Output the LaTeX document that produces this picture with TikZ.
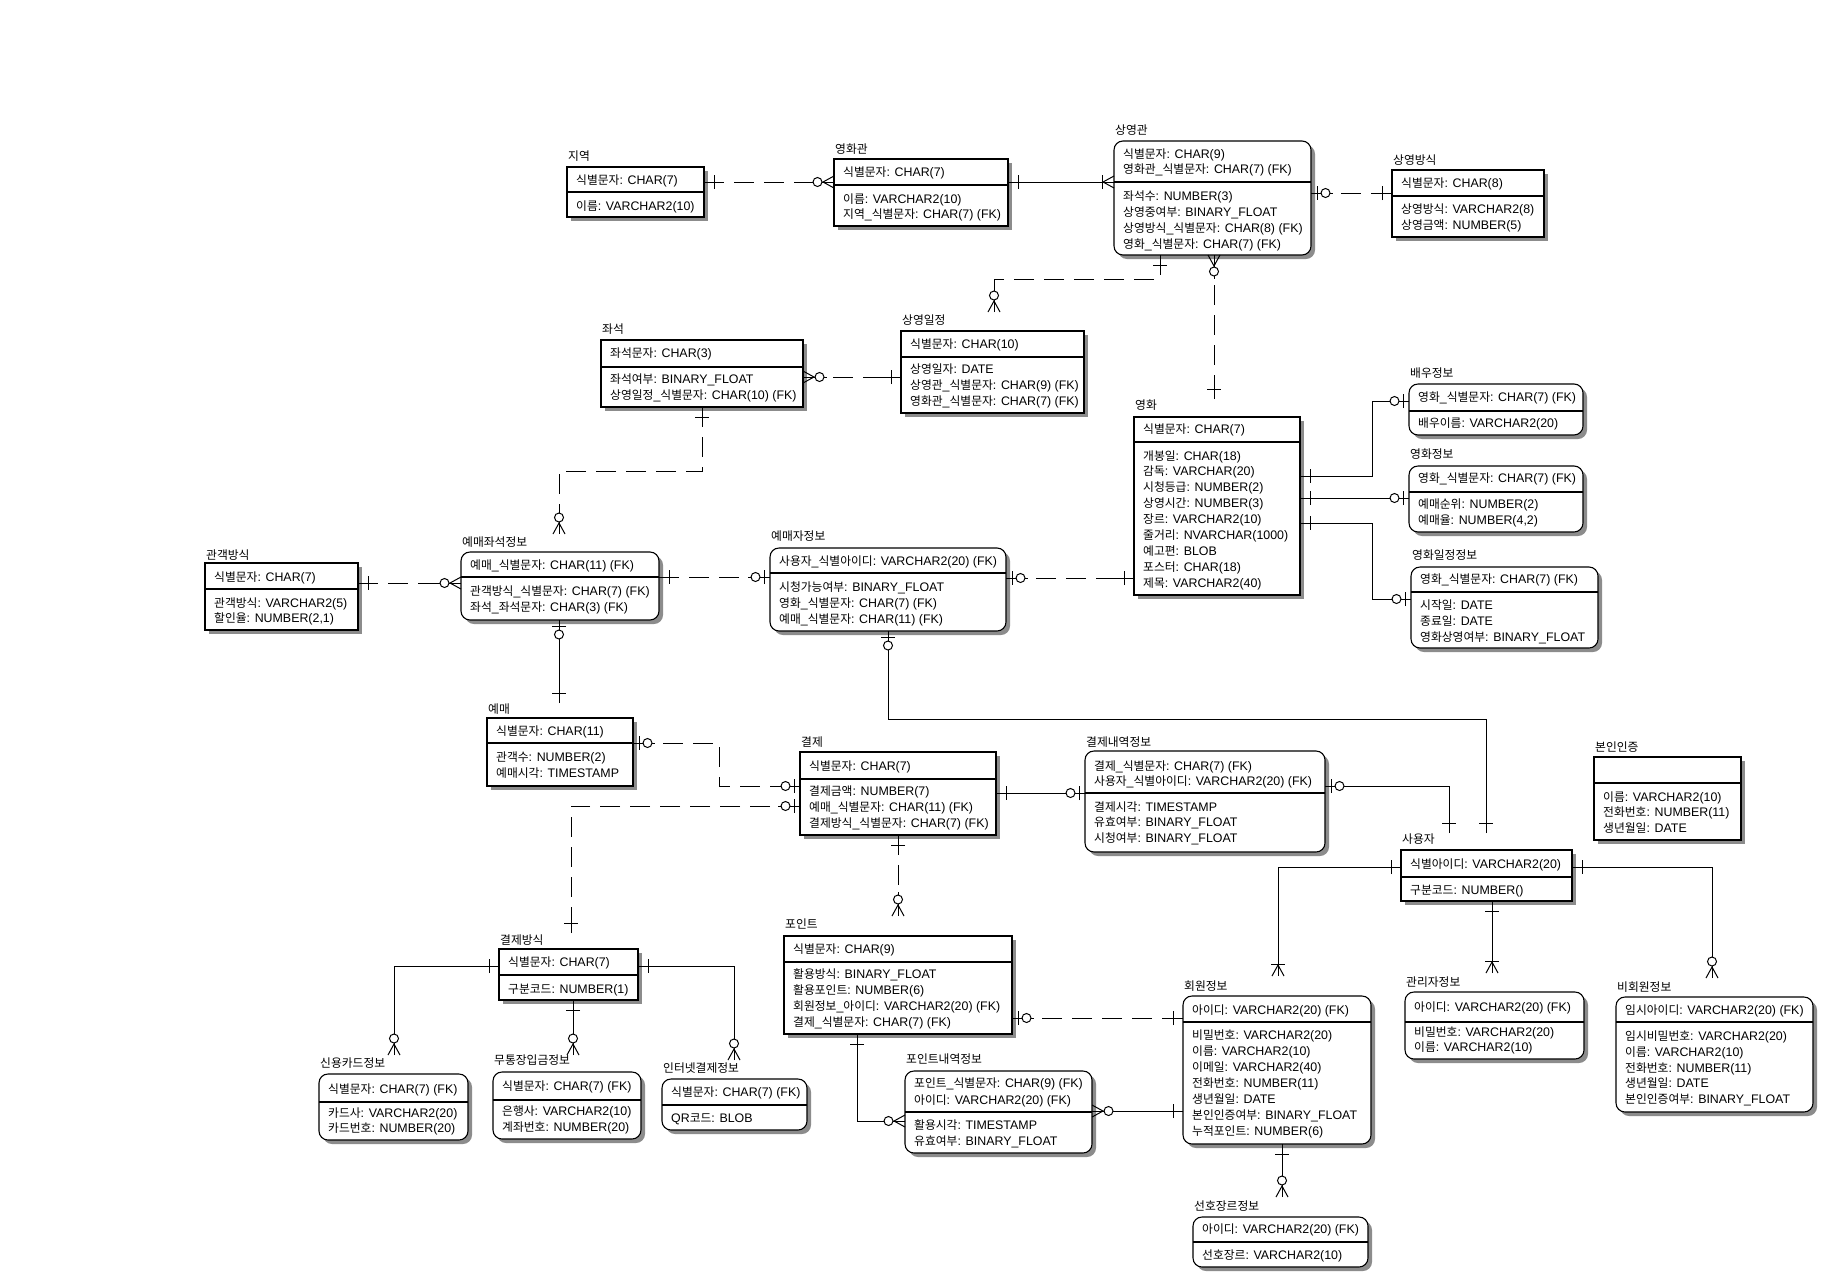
\documentclass[tikz,border=0pt]{standalone}
\usepackage{fontspec}
\setmainfont{Liberation Sans}
\newfontfamily\kofont[Scale=0.95]{Noto Sans CJK KR}
\newfontfamily\latfont{Liberation Sans}
\usetikzlibrary{shadows}
\newcount\hc
\newXeTeXintercharclass\KoClass
\hc="AC00
\loop \XeTeXcharclass\hc=\KoClass \advance\hc by 1 \ifnum\hc<"D7A4 \repeat
\XeTeXinterchartoks 0 \KoClass={\kofont}
\XeTeXinterchartoks 4095 \KoClass={\kofont}
\XeTeXinterchartoks \KoClass 0={\latfont}
\XeTeXinterchartoks \KoClass 4095={\latfont}
\XeTeXinterchartokenstate=1
\newcount\rc
\tikzset{
  ent/.style={draw, line width=1.1pt, fill=white, anchor=north west, inner sep=0pt, outer sep=0pt,
    drop shadow={shadow xshift=4pt, shadow yshift=-4pt, opacity=1, fill=black!45}},
  rent/.style={ent, rounded corners=9pt},
  row/.style={anchor=west, inner sep=0pt, text height=10pt, text depth=2pt, font=\fontsize{12.4}{14}\selectfont},
  ttl/.style={row},
  conn/.style={line width=1pt},
  dconn/.style={conn, dash pattern=on 20pt off 10pt},
  mk/.style={line width=1pt, solid},
  pics/one/.style={code={\draw[mk] (0,0) -- (20,0); \draw[mk] (10,-7) -- (10,7);}},
  pics/zone/.style={code={\draw[mk] (0,0) -- (22,0); \draw[mk] (6,-7) -- (6,7); \draw[mk, fill=white] (14.5,0) circle[radius=4.5];}},
  pics/zmany/.style={code={\draw[mk] (0,0) -- (24,0); \draw[mk] (0,-6) -- (11,0) -- (0,6); \draw[mk, fill=white] (16.5,0) circle[radius=4.5];}},
  pics/omany/.style={code={\draw[mk] (0,0) -- (20,0); \draw[mk] (0,-6) -- (11,0) -- (0,6); \draw[mk] (12,-7) -- (12,7);}},
}
\newcommand\ent[9]{%
  \node[#2, minimum width={#5-#3}, minimum height={#6-#4}] (#1) at (#3,#4) {};
  \draw[line width=1.1pt] (#1.west |- 0,#7) -- (#1.east |- 0,#7);
  \node[ttl] (#1-t) at ({#3+1},#8) {#9};
  \def\ex{#3}}
\newcommand\rw[2]{\global\advance\rc by 1\relax \node[row] (r\the\rc) at ({\ex+9},#1) {#2};}
\begin{document}
\begin{tikzpicture}[x=1pt,y=-1pt]
\useasboundingbox (0,0) rectangle (1828,1283);
\fill[white] (0,0) rectangle (1828,1283);

% entities
\ent{jy}{ent}{567}{167}{704}{217}{192}{156}{지역}
\rw{180}{식별문자: CHAR(7)} \rw{206}{이름: VARCHAR2(10)}

\ent{yhg}{ent}{834}{159}{1008}{226}{185}{149}{영화관}
\rw{172}{식별문자: CHAR(7)} \rw{199}{이름: VARCHAR2(10)} \rw{214}{지역\_식별문자: CHAR(7) (FK)}

\ent{syg}{rent}{1114}{141}{1311}{255}{182}{130}{상영관}
\rw{154}{식별문자: CHAR(9)} \rw{169}{영화관\_식별문자: CHAR(7) (FK)}
\rw{196}{좌석수: NUMBER(3)} \rw{212}{상영중여부: BINARY\_FLOAT} \rw{228}{상영방식\_식별문자: CHAR(8) (FK)} \rw{244}{영화\_식별문자: CHAR(7) (FK)}

\ent{sybs}{ent}{1392}{170}{1544}{237}{196}{160}{상영방식}
\rw{183}{식별문자: CHAR(8)} \rw{209}{상영방식: VARCHAR2(8)} \rw{225}{상영금액: NUMBER(5)}

\ent{js}{ent}{601}{340}{803}{407}{367}{329}{좌석}
\rw{353}{좌석문자: CHAR(3)} \rw{379}{좌석여부: BINARY\_FLOAT} \rw{395}{상영일정\_식별문자: CHAR(10) (FK)}

\ent{syij}{ent}{901}{331}{1084}{413}{357}{320}{상영일정}
\rw{344}{식별문자: CHAR(10)} \rw{369}{상영일자: DATE} \rw{385}{상영관\_식별문자: CHAR(9) (FK)} \rw{401}{영화관\_식별문자: CHAR(7) (FK)}

\ent{yh}{ent}{1134}{417}{1300}{595}{442}{405}{영화}
\rw{429}{식별문자: CHAR(7)}
\rw{456}{개봉일: CHAR(18)} \rw{471}{감독: VARCHAR(20)} \rw{487}{시청등급: NUMBER(2)} \rw{503}{상영시간: NUMBER(3)}
\rw{519}{장르: VARCHAR2(10)} \rw{535}{줄거리: NVARCHAR(1000)} \rw{551}{예고편: BLOB} \rw{567}{포스터: CHAR(18)} \rw{583}{제목: VARCHAR2(40)}

\ent{bu}{rent}{1409}{384}{1583}{435}{411}{373}{배우정보}
\rw{397}{영화\_식별문자: CHAR(7) (FK)} \rw{423}{배우이름: VARCHAR2(20)}

\ent{yhj}{rent}{1409}{466}{1583}{532}{492}{454}{영화정보}
\rw{478}{영화\_식별문자: CHAR(7) (FK)} \rw{504}{예매순위: NUMBER(2)} \rw{520}{예매율: NUMBER(4,2)}

\ent{yhij}{rent}{1411}{567}{1598}{648}{592}{555}{영화일정정보}
\rw{579}{영화\_식별문자: CHAR(7) (FK)} \rw{605}{시작일: DATE} \rw{621}{종료일: DATE} \rw{637}{영화상영여부: BINARY\_FLOAT}

\ent{ggbs}{ent}{205}{563}{358}{630}{589}{555}{관객방식}
\rw{577}{식별문자: CHAR(7)} \rw{603}{관객방식: VARCHAR2(5)} \rw{618}{할인율: NUMBER(2,1)}

\ent{ymjs}{rent}{461}{552}{659}{620}{577}{542}{예매좌석정보}
\rw{565}{예매\_식별문자: CHAR(11) (FK)} \rw{591}{관객방식\_식별문자: CHAR(7) (FK)} \rw{607}{좌석\_좌석문자: CHAR(3) (FK)}

\ent{ymj}{rent}{770}{548}{1006}{631}{573}{536}{예매자정보}
\rw{561}{사용자\_식별아이디: VARCHAR2(20) (FK)} \rw{587}{시청가능여부: BINARY\_FLOAT} \rw{603}{영화\_식별문자: CHAR(7) (FK)} \rw{619}{예매\_식별문자: CHAR(11) (FK)}

\ent{ym}{ent}{487}{718}{633}{786}{743}{709}{예매}
\rw{731}{식별문자: CHAR(11)} \rw{757}{관객수: NUMBER(2)} \rw{773}{예매시각: TIMESTAMP}

\ent{gj}{ent}{800}{752}{996}{835}{779}{742}{결제}
\rw{766}{식별문자: CHAR(7)} \rw{791}{결제금액: NUMBER(7)} \rw{807}{예매\_식별문자: CHAR(11) (FK)} \rw{823}{결제방식\_식별문자: CHAR(7) (FK)}

\ent{gjn}{rent}{1085}{751}{1325}{852}{793}{742}{결제내역정보}
\rw{766}{결제\_식별문자: CHAR(7) (FK)} \rw{781}{사용자\_식별아이디: VARCHAR2(20) (FK)}
\rw{807}{결제시각: TIMESTAMP} \rw{822}{유효여부: BINARY\_FLOAT} \rw{838}{시청여부: BINARY\_FLOAT}

\ent{bii}{ent}{1594}{757}{1741}{840}{783}{747}{본인인증}
\rw{797}{이름: VARCHAR2(10)} \rw{812}{전화번호: NUMBER(11)} \rw{828}{생년월일: DATE}

\ent{sy}{ent}{1401}{850}{1572}{901}{877}{839}{사용자}
\rw{864}{식별아이디: VARCHAR2(20)} \rw{890}{구분코드: NUMBER()}

\ent{gjbs}{ent}{499}{949}{638}{1000}{975}{940}{결제방식}
\rw{962}{식별문자: CHAR(7)} \rw{989}{구분코드: NUMBER(1)}

\ent{sk}{rent}{319}{1074}{468}{1140}{1102}{1063}{신용카드정보}
\rw{1089}{식별문자: CHAR(7) (FK)} \rw{1113}{카드사: VARCHAR2(20)} \rw{1128}{카드번호: NUMBER(20)}

\ent{mt}{rent}{493}{1072}{641}{1139}{1100}{1060}{무통장입금정보}
\rw{1086}{식별문자: CHAR(7) (FK)} \rw{1111}{은행사: VARCHAR2(10)} \rw{1127}{계좌번호: NUMBER(20)}

\ent{it}{rent}{662}{1079}{807}{1130}{1105}{1068}{인터넷결제정보}
\rw{1092}{식별문자: CHAR(7) (FK)} \rw{1118}{QR코드: BLOB}

\ent{pt}{ent}{784}{936}{1012}{1034}{962}{924}{포인트}
\rw{949}{식별문자: CHAR(9)} \rw{974}{활용방식: BINARY\_FLOAT} \rw{990}{활용포인트: NUMBER(6)}
\rw{1006}{회원정보\_아이디: VARCHAR2(20) (FK)} \rw{1022}{결제\_식별문자: CHAR(7) (FK)}

\ent{ptn}{rent}{905}{1071}{1092}{1153}{1112}{1059}{포인트내역정보}
\rw{1083}{포인트\_식별문자: CHAR(9) (FK)} \rw{1100}{아이디: VARCHAR2(20) (FK)} \rw{1125}{활용시각: TIMESTAMP} \rw{1141}{유효여부: BINARY\_FLOAT}

\ent{hw}{rent}{1183}{996}{1371}{1144}{1022}{986}{회원정보}
\rw{1010}{아이디: VARCHAR2(20) (FK)} \rw{1035}{비밀번호: VARCHAR2(20)} \rw{1051}{이름: VARCHAR2(10)} \rw{1067}{이메일: VARCHAR2(40)}
\rw{1083}{전화번호: NUMBER(11)} \rw{1099}{생년월일: DATE} \rw{1115}{본인인증여부: BINARY\_FLOAT} \rw{1131}{누적포인트: NUMBER(6)}

\ent{sh}{rent}{1193}{1217}{1368}{1267}{1242}{1206}{선호장르정보}
\rw{1229}{아이디: VARCHAR2(20) (FK)} \rw{1255}{선호장르: VARCHAR2(10)}

\ent{gr}{rent}{1405}{992}{1584}{1059}{1022}{982}{관리자정보}
\rw{1007}{아이디: VARCHAR2(20) (FK)} \rw{1032}{비밀번호: VARCHAR2(20)} \rw{1047}{이름: VARCHAR2(10)}

\ent{bhw}{rent}{1616}{997}{1813}{1112}{1022}{987}{비회원정보}
\rw{1010}{임시아이디: VARCHAR2(20) (FK)} \rw{1036}{임시비밀번호: VARCHAR2(20)} \rw{1052}{이름: VARCHAR2(10)}
\rw{1068}{전화번호: NUMBER(11)} \rw{1083}{생년월일: DATE} \rw{1099}{본인인증여부: BINARY\_FLOAT}

% connectors
\draw[dconn] (jy.east |- 0,182) -- (yhg.west |- 0,182);
\pic at (jy.east |- 0,182) {one};
\pic[rotate=180] at (yhg.west |- 0,182) {zmany};

\draw[conn] (yhg.east |- 0,182) -- (syg.west |- 0,182);
\pic at (yhg.east |- 0,182) {one};
\pic[rotate=180] at (syg.west |- 0,182) {omany};

\draw[dconn] (syg.east |- 0,193) -- (sybs.west |- 0,193);
\pic at (syg.east |- 0,193) {zone};
\pic[rotate=180] at (sybs.west |- 0,193) {one};

\coordinate (c4) at (994,312);
\draw[dconn] (syg.south -| 1160,0) -- (1160,279) -- (994,279) -- (c4);
\pic[rotate=-90] at (syg.south -| 1160,0) {one};
\pic[rotate=90] at (c4) {zmany};

\coordinate (c5) at (1214,399);
\draw[dconn] (syg.south -| 1214,0) -- (c5);
\pic[rotate=-90] at (syg.south -| 1214,0) {zmany};
\pic[rotate=90] at (c5) {one};

\draw[dconn] (js.east |- 0,377) -- (syij.west |- 0,377);
\pic at (js.east |- 0,377) {zmany};
\pic[rotate=180] at (syij.west |- 0,377) {one};

\coordinate (c7) at (559,534);
\draw[dconn] (js.south -| 702,0) -- (702,471) -- (559,471) -- (c7);
\pic[rotate=-90] at (js.south -| 702,0) {one};
\pic[rotate=90] at (c7) {zmany};

\draw[dconn] (ggbs.east |- 0,583) -- (ymjs.west |- 0,583);
\pic at (ggbs.east |- 0,583) {one};
\pic[rotate=180] at (ymjs.west |- 0,583) {zmany};

\draw[dconn] (ymjs.east |- 0,577) -- (ymj.west |- 0,577);
\pic at (ymjs.east |- 0,577) {one};
\pic[rotate=180] at (ymj.west |- 0,577) {zone};

\draw[dconn] (ymj.east |- 0,578) -- (yh.west |- 0,578);
\pic at (ymj.east |- 0,578) {zone};
\pic[rotate=180] at (yh.west |- 0,578) {one};

\coordinate (c11) at (559,703);
\draw[conn] (ymjs.south -| 559,0) -- (c11);
\pic[rotate=-90] at (ymjs.south -| 559,0) {zone};
\pic[rotate=90] at (c11) {one};

\coordinate (c12) at (1486,833);
\draw[conn] (ymj.south -| 888,0) -- (888,719) -- (1486,719) -- (c12);
\pic[rotate=-90] at (ymj.south -| 888,0) {zone};
\pic[rotate=90] at (c12) {one};

\draw[dconn] (ym.east |- 0,743) -- (719,743) -- (719,786) -- (gj.west |- 0,786);
\pic at (ym.east |- 0,743) {zone};
\pic[rotate=180] at (gj.west |- 0,786) {zone};

\coordinate (c14) at (571,933);
\draw[dconn] (gj.west |- 0,806) -- (571,806) -- (c14);
\pic[rotate=180] at (gj.west |- 0,806) {zone};
\pic[rotate=90] at (c14) {one};

\draw[conn] (gj.east |- 0,793) -- (gjn.west |- 0,793);
\pic at (gj.east |- 0,793) {one};
\pic[rotate=180] at (gjn.west |- 0,793) {zone};

\coordinate (c16) at (898,916);
\draw[dconn] (gj.south -| 898,0) -- (c16);
\pic[rotate=-90] at (gj.south -| 898,0) {one};
\pic[rotate=90] at (c16) {zmany};

\coordinate (c17) at (1449,833);
\draw[conn] (gjn.east |- 0,786) -- (1449,786) -- (c17);
\pic at (gjn.east |- 0,786) {zone};
\pic[rotate=90] at (c17) {one};

\coordinate (c18) at (1278,976);
\draw[conn] (sy.west |- 0,867) -- (1278,867) -- (c18);
\pic[rotate=180] at (sy.west |- 0,867) {one};
\pic[rotate=90] at (c18) {omany};

\coordinate (c19) at (1492,973);
\draw[conn] (sy.south -| 1492,0) -- (c19);
\pic[rotate=-90] at (sy.south -| 1492,0) {one};
\pic[rotate=90] at (c19) {omany};

\coordinate (c20) at (1712,978);
\draw[conn] (sy.east |- 0,867) -- (1712,867) -- (c20);
\pic at (sy.east |- 0,867) {one};
\pic[rotate=90] at (c20) {zmany};

\coordinate (c21) at (394,1055);
\draw[conn] (gjbs.west |- 0,966) -- (394,966) -- (c21);
\pic[rotate=180] at (gjbs.west |- 0,966) {one};
\pic[rotate=90] at (c21) {zmany};

\coordinate (c22) at (573,1055);
\draw[conn] (gjbs.south -| 573,0) -- (c22);
\pic[rotate=-90] at (gjbs.south -| 573,0) {one};
\pic[rotate=90] at (c22) {zmany};

\coordinate (c23) at (734,1060);
\draw[conn] (gjbs.east |- 0,966) -- (734,966) -- (c23);
\pic at (gjbs.east |- 0,966) {one};
\pic[rotate=90] at (c23) {zmany};

\draw[conn] (pt.south -| 857,0) -- (857,1121) -- (ptn.west |- 0,1121);
\pic[rotate=-90] at (pt.south -| 857,0) {one};
\pic[rotate=180] at (ptn.west |- 0,1121) {zmany};

\draw[dconn] (pt.east |- 0,1018) -- (hw.west |- 0,1018);
\pic at (pt.east |- 0,1018) {zone};
\pic[rotate=180] at (hw.west |- 0,1018) {one};

\draw[conn] (ptn.east |- 0,1111) -- (hw.west |- 0,1111);
\pic at (ptn.east |- 0,1111) {zmany};
\pic[rotate=180] at (hw.west |- 0,1111) {one};

\coordinate (c27) at (1282,1197);
\draw[conn] (hw.south -| 1282,0) -- (c27);
\pic[rotate=-90] at (hw.south -| 1282,0) {one};
\pic[rotate=90] at (c27) {zmany};

\draw[conn] (yh.east |- 0,476) -- (1372,476) -- (1372,401) -- (bu.west |- 0,401);
\pic at (yh.east |- 0,476) {one};
\pic[rotate=180] at (bu.west |- 0,401) {zone};

\draw[conn] (yh.east |- 0,498) -- (yhj.west |- 0,498);
\pic at (yh.east |- 0,498) {one};
\pic[rotate=180] at (yhj.west |- 0,498) {zone};

\draw[conn] (yh.east |- 0,523) -- (1372,523) -- (1372,599) -- (yhij.west |- 0,599);
\pic at (yh.east |- 0,523) {one};
\pic[rotate=180] at (yhij.west |- 0,599) {zone};
\end{tikzpicture}
\end{document}
